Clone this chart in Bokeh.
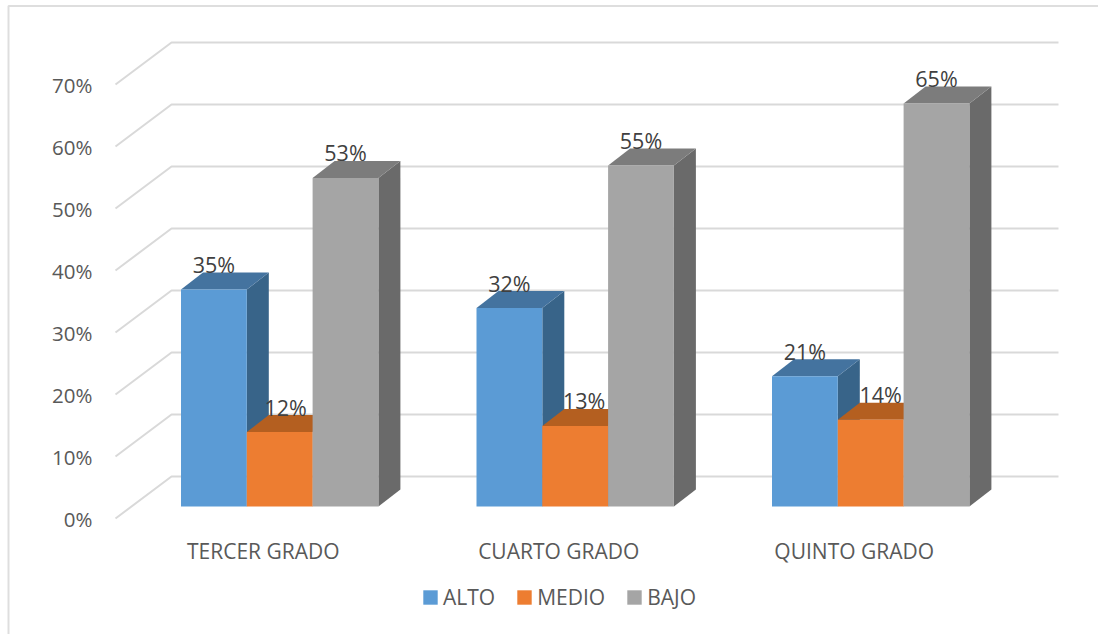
from bokeh.plotting import figure
from bokeh.embed import file_html
from bokeh.resources import INLINE
from bokeh.models import LinearAxis, FixedTicker, Range1d, Legend, LegendItem
from bokeh.core.properties import value

categories = ["TERCER GRADO", "CUARTO GRADO", "QUINTO GRADO"]
series_names = ["ALTO", "MEDIO", "BAJO"]
alto = [35, 32, 21]
medio = [12, 13, 14]
bajo = [53, 55, 65]
y_ticks = [0, 10, 20, 30, 40, 50, 60, 70]

front_colors = ["#5B9BD5", "#ED7D31", "#A5A5A5"]
side_colors = ["#386489", "#A9591F", "#6A6A6A"]
top_colors = ["#44739F", "#B45F20", "#7C7C7C"]

W, H = 1098, 634
X_UNIT = 295.5    # px per category
Y_UNIT = 6.2      # px per percentage point
X0, Y0 = 115, 518 # px of the front corner of the floor

p = figure(width=W, height=H, output_backend="svg", toolbar_location=None,
           x_range=Range1d(-X0 / X_UNIT, (W - X0) / X_UNIT),
           y_range=Range1d((Y0 - H) / Y_UNIT, Y0 / Y_UNIT),
           x_axis_type=None, y_axis_type=None, min_border=0,
           background_fill_color="white", border_fill_color="white")
p.outline_line_color = None
p.grid.visible = False
p.styles = {"position": "absolute", "left": "0", "top": "0"}


def dx(px):
    return px / X_UNIT


def dy(px):
    return px / Y_UNIT


def sx(px):
    return (px - X0) / X_UNIT


def sy(px):
    return (Y0 - px) / Y_UNIT


# image frame
p.line([sx(8), sx(8), sx(1098)], [sy(634), sy(5.5), sy(5.5)], line_color="#DEDEDE", line_width=2)

# side wall and back wall lines
wall_x = [0, dx(56), sx(1058)]
for t in y_ticks:
    p.line(wall_x, [t, t + dy(42), t + dy(42)], line_color="#D9D9D9", line_width=2)

BASE = dy(12)
BAR_W = dx(65.8)
FIRST = dx(65.5)
DEPTH_X, DEPTH_Y = dx(22), dy(17)
series = [alto, medio, bajo]
fronts = []
label_x, label_y, label_t = [], [], []
for c in range(len(categories)):
    for j, vals in enumerate(series):
        left = c + FIRST + j * BAR_W
        right = left + BAR_W
        top = BASE + vals[c]
        p.patch([right, right + DEPTH_X, right + DEPTH_X, right],
                [BASE, BASE + DEPTH_Y, top + DEPTH_Y, top], fill_color=side_colors[j], line_color=None)
        p.patch([left, right, right + DEPTH_X, left + DEPTH_X],
                [top, top, top + DEPTH_Y, top + DEPTH_Y], fill_color=top_colors[j], line_color=None)
        r = p.quad(left=[left], right=[right], bottom=[BASE], top=[top], fill_color=front_colors[j], line_color=None)
        if c == 0:
            fronts.append(r)
        shift = dx([6, 9, 10][c]) if j == 1 else 0
        label_x.append((left + right) / 2 + shift)
        label_y.append(top + dy(25))
        label_t.append(f"{vals[c]}%")

p.text(x=label_x, y=label_y, text=label_t, text_align="center", text_baseline="middle",
       text_font=value("Open Sans"), text_font_size="21.5px", text_color="#404040")

# axes
yaxis = LinearAxis(ticker=FixedTicker(ticks=y_ticks),
                   major_label_overrides={t: f"{t}%" for t in y_ticks},
                   fixed_location=0, axis_line_color=None, major_tick_line_color=None,
                   minor_tick_line_color=None, major_label_standoff=17,
                   major_label_text_font="Open Sans", major_label_text_font_size="20.5px",
                   major_label_text_color="#595959")
p.add_layout(yaxis, "left")

centers = [i + 0.5 for i in range(len(categories))]
xaxis = LinearAxis(ticker=FixedTicker(ticks=centers),
                   major_label_overrides={c: n for c, n in zip(centers, categories)},
                   fixed_location=dy(-12.5), axis_line_color=None, major_tick_line_color=None,
                   minor_tick_line_color=None, major_label_standoff=0,
                   major_label_text_font="Open Sans", major_label_text_font_size="21px",
                   major_label_text_color="#595959")
p.add_layout(xaxis, "below")

legend = Legend(items=[LegendItem(label=n, renderers=[r]) for n, r in zip(series_names, fronts)],
                orientation="horizontal", location=(421, H - 611), margin=0, padding=0,
                spacing=20, glyph_width=18, glyph_height=18, label_standoff=4,
                label_text_font="Open Sans", label_text_font_size="21px", label_text_color="#595959",
                border_line_color=None, background_fill_color=None)
p.add_layout(legend)

open("out.html", "w").write(file_html(p, INLINE))
